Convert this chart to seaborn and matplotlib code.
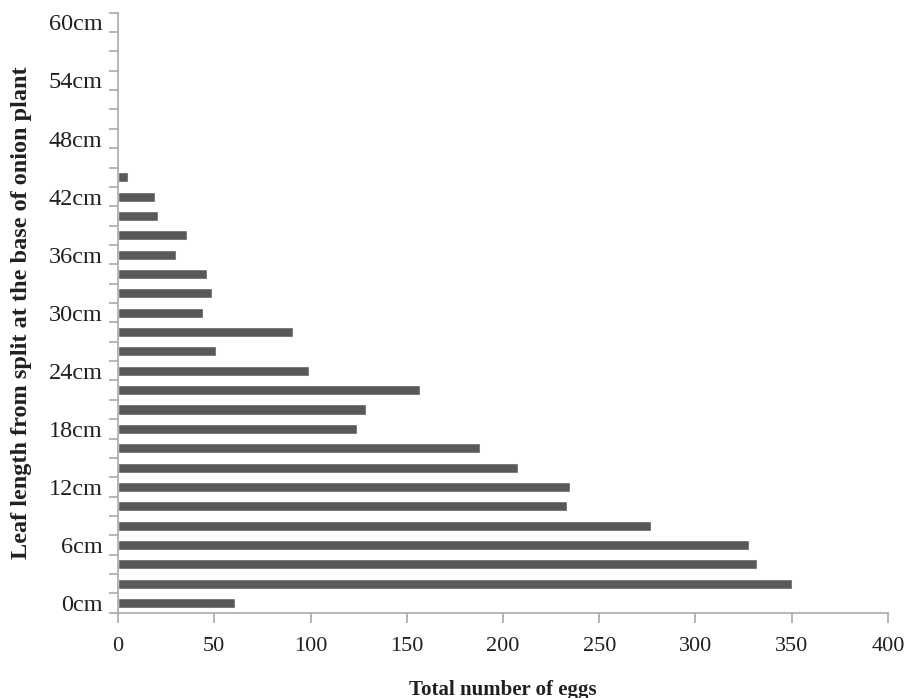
import matplotlib
matplotlib.use("Agg")
import matplotlib.pyplot as plt
import seaborn as sns
import pandas as pd
from matplotlib.ticker import FixedLocator

# leaf length categories, 0cm to 60cm in steps of 2cm
lengths = ['0cm', '2cm', '4cm', '6cm', '8cm', '10cm', '12cm', '14cm', '16cm', '18cm',
           '20cm', '22cm', '24cm', '26cm', '28cm', '30cm', '32cm', '34cm', '36cm', '38cm',
           '40cm', '42cm', '44cm', '46cm', '48cm', '50cm', '52cm', '54cm', '56cm', '58cm', '60cm']
# total number of eggs per category
eggs = [61, 350, 332, 328, 277, 233, 235, 208, 188, 124,
        129, 157, 99, 51, 91, 44, 49, 46, 30, 36,
        21, 19, 5, 0, 0, 0, 0, 0, 0, 0, 0]
# only every third category gets a label
shown_labels = ['0cm', '6cm', '12cm', '18cm', '24cm', '30cm', '36cm', '42cm', '48cm', '54cm', '60cm']
x_ticks = [0, 50, 100, 150, 200, 250, 300, 350, 400]

sns.set_style("white")
plt.rcParams['font.family'] = ['Liberation Serif', 'DejaVu Serif']

df = pd.DataFrame({'length': lengths, 'eggs': eggs})

fig = plt.figure(figsize=(9.1, 6.98), dpi=100)
ax = fig.add_axes([0.1297, 0.1222, 0.8461, 0.8596])

# top of the chart is the longest leaf length
order = lengths[::-1]
sns.barplot(data=df, x='eggs', y='length', order=order, orient='h',
            color='#58595b', saturation=1, width=0.52, ax=ax)

ax.set_xlim(0, 400)
ax.set_xticks(x_ticks)
ax.set_xticklabels([str(t) for t in x_ticks])

n = len(order)
ax.set_ylim(n - 0.5, -0.5)
label_pos = [order.index(l) for l in shown_labels]
ax.set_yticks(label_pos)
ax.set_yticklabels(shown_labels)
ax.yaxis.set_minor_locator(FixedLocator([i - 0.5 for i in range(n + 1)]))

grey = '#a9a9a9'
for s in ['top', 'right']:
    ax.spines[s].set_visible(False)
for s in ['left', 'bottom']:
    ax.spines[s].set_color(grey)
    ax.spines[s].set_linewidth(1.2)

ax.tick_params(axis='y', which='major', length=0, pad=11, labelsize=17.5, labelcolor='#231f20')
ax.tick_params(axis='y', which='minor', length=6.5, width=1.2, color=grey, direction='out', left=True)
ax.tick_params(axis='x', which='major', length=7, width=1.2, color=grey, direction='out',
               pad=10.5, labelsize=16, labelcolor='#231f20', bottom=True)

ax.set_xlabel('Total number of eggs', fontsize=15, fontweight='bold', labelpad=17, color='#231f20')
ax.set_ylabel('Leaf length from split at the base of onion plant', fontsize=17.5,
              fontweight='bold', labelpad=12, color='#231f20')

fig.savefig('out.png', dpi=100)
